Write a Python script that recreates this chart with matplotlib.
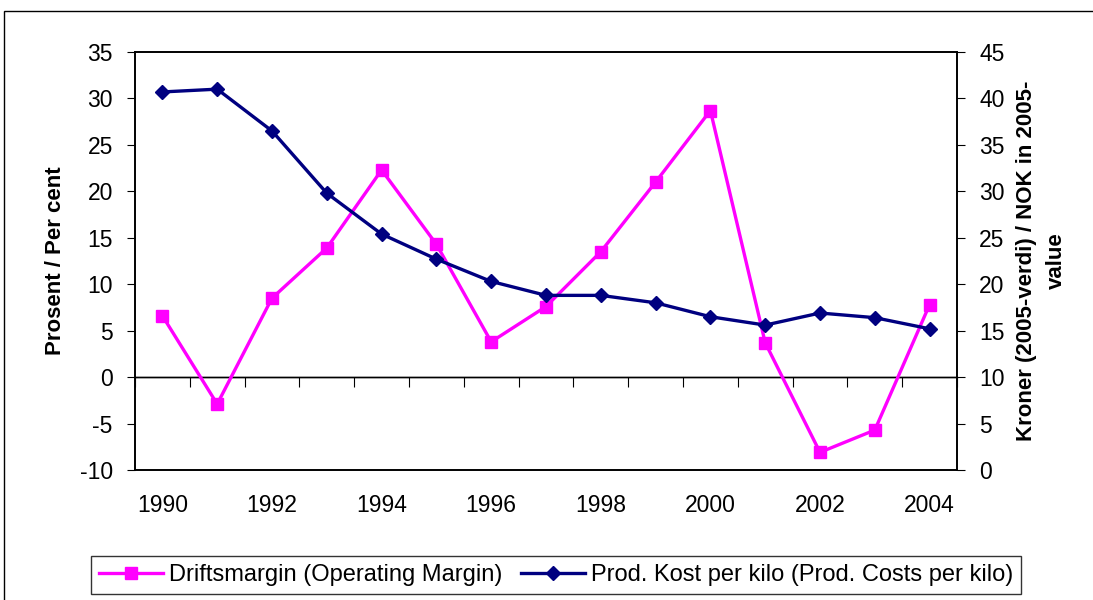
import numpy as np
import matplotlib.pyplot as plt
from matplotlib.patches import Rectangle

plt.rcParams['font.family'] = ['Liberation Sans', 'DejaVu Sans']
plt.rcParams['axes.unicode_minus'] = False

years = list(range(1990, 2005))
margin = [6.6, -2.9, 8.5, 13.9, 22.3, 14.3, 3.8, 7.6, 13.5, 21.0, 28.7, 3.7, -8.1, -5.7, 7.8]
cost = [40.7, 41.0, 36.5, 29.8, 25.4, 22.7, 20.3, 18.8, 18.8, 18.0, 16.5, 15.6, 16.9, 16.4, 15.2]
label_years = years[::2]

fig = plt.figure(figsize=(10.93, 6.0), dpi=100)
fig.patches.append(Rectangle((4 / 1093, -0.1), 1.2, 1 - 11 / 600 + 0.1,
                             transform=fig.transFigure, fill=False,
                             edgecolor='black', linewidth=1.0))

ax = fig.add_axes([135 / 1093, 130 / 600, 822 / 1093, 418 / 600])
ax2 = ax.twinx()

ax.plot(years, margin, color='#FF00FF', lw=2.4, marker='s', ms=9,
        label='Driftsmargin (Operating Margin)', zorder=3)
ax2.plot(years, cost, color='#000080', lw=2.4, marker='D', ms=7,
         label='Prod. Kost per kilo (Prod. Costs per kilo)', zorder=3)

ax.set_xlim(1989.5, 2004.5)
ax.set_ylim(-10, 35)
ax.set_yticks(np.arange(-10, 36, 5))
ax2.set_ylim(0, 45)
ax2.set_yticks(np.arange(0, 46, 5))

ax.set_xticks(label_years)
ax.set_xticklabels([str(y) for y in label_years])
ax.tick_params(axis='x', length=0, pad=17, labelsize=16.5)
ax.tick_params(axis='y', direction='out', length=6, labelsize=16.5, pad=10)
ax2.tick_params(axis='y', direction='out', length=6, labelsize=16.5, pad=10)

# category axis crossing at zero with tick marks between categories
ax.axhline(0, color='black', lw=1.0, zorder=2)
sec = ax.secondary_xaxis(10 / 45)
sec.set_xticks(np.arange(1989.5, 2005, 1))
sec.tick_params(axis='x', direction='out', length=7, labelbottom=False)
sec.spines['bottom'].set_linewidth(1.0)

for a in (ax, ax2):
    for s in a.spines.values():
        s.set_linewidth(1.2)

ax.set_ylabel('Prosent / Per cent', fontsize=16, fontweight='bold', labelpad=10)
ax2.set_ylabel('Kroner (2005-verdi) / NOK in 2005-\nvalue', fontsize=16,
               fontweight='bold', rotation=90, labelpad=8, ha='center',
               multialignment='center', linespacing=1.55)

h1, l1 = ax.get_legend_handles_labels()
h2, l2 = ax2.get_legend_handles_labels()
leg = fig.legend(h1 + h2, l1 + l2, loc='center', ncol=2,
                 bbox_to_anchor=(556 / 1093, 1 - 575 / 600), fontsize=17,
                 frameon=True, fancybox=False, edgecolor='black',
                 handlelength=2.7, handletextpad=0.25, columnspacing=0.8,
                 borderpad=0.35)
leg.get_frame().set_linewidth(1.0)

fig.savefig('out.png', dpi=100)
